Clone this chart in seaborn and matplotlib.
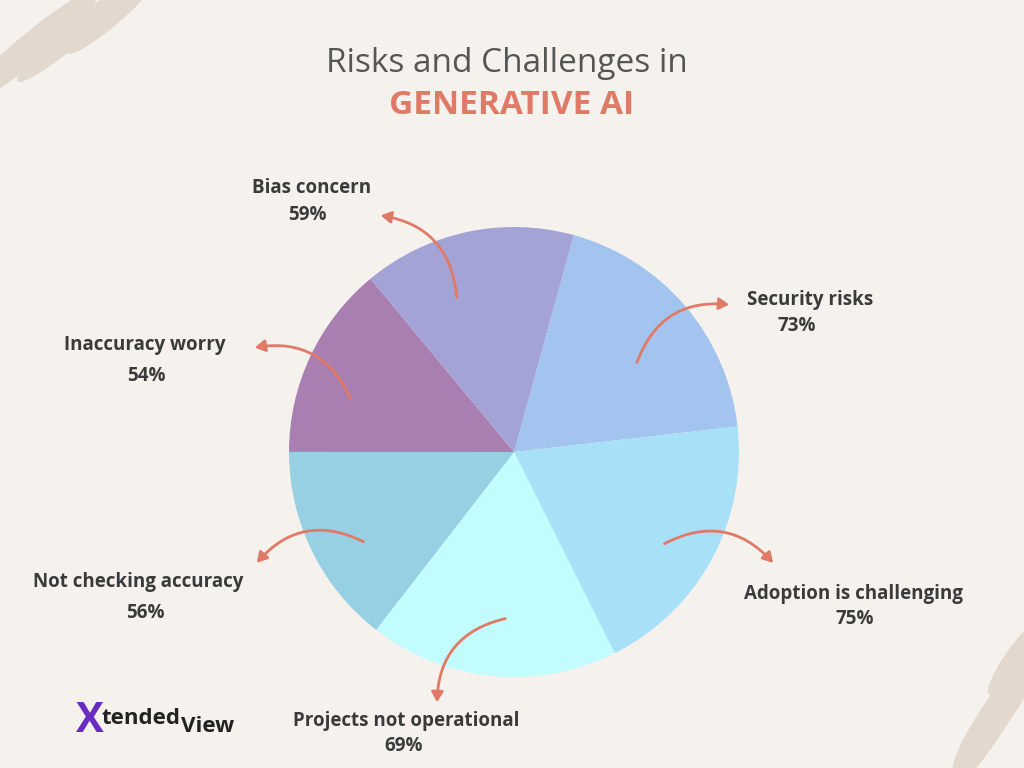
import matplotlib
matplotlib.use("Agg")
import matplotlib.pyplot as plt
import seaborn as sns
from matplotlib.patches import Ellipse

sns.set_theme(style="white")
plt.rcParams['font.family'] = ['Open Sans', 'DejaVu Sans']

categories = ["Security risks", "Adoption is challenging", "Projects not operational",
              "Not checking accuracy", "Inaccuracy worry", "Bias concern"]
values = [73, 75, 69, 56, 54, 59]
colors = ["#A3C4EE", "#A8E0F8", "#C2FCFC", "#97D0E2", "#A97FB2", "#A4A3D6"]

bg = "#F5F2EE"
fig = plt.figure(figsize=(10.24, 7.68), dpi=100, facecolor=bg)

deco = fig.add_axes([0, 0, 1, 1], zorder=0)
deco.set_xlim(0, 1024); deco.set_ylim(0, 768); deco.axis("off")
for (x, y, w, h, a) in [(30, 720, 180, 28, 40), (75, 735, 150, 22, 40), (110, 750, 110, 18, 40),
                        (1000, 60, 160, 30, 55), (985, 30, 150, 22, 55), (1015, 110, 90, 20, 55)]:
    deco.add_patch(Ellipse((x, y), w, h, angle=a, color="#E2D8CD", lw=0))

ax = fig.add_axes([(514-225)/1024, (768-452-225)/768, 450/1024, 450/768], zorder=1)
ax.pie(values, colors=colors, startangle=74.6, counterclock=False,
       wedgeprops=dict(linewidth=0))
ax.set_xlim(-1, 1); ax.set_ylim(-1, 1)
ax.set_aspect("equal")
ax.set_facecolor("none")

fig.text(507, 768-63, "Risks and Challenges in", transform=None, ha="center", va="center",
         fontsize=24, color="#555555")
fig.text(512, 768-105, "GENERATIVE AI", transform=None, ha="center", va="center",
         fontsize=24, color="#E07A67", fontweight="bold")

lab = dict(fontsize=13.5, fontweight="bold", color="#3a3a3a", transform=None, va="center")
texts = [
    ("Bias concern", 312, 188), ("59%", 307, 215),
    ("Security risks", 810, 300), ("73%", 797, 326),
    ("Inaccuracy worry", 145, 345), ("54%", 146, 376),
    ("Not checking accuracy", 138, 582), ("56%", 145, 613),
    ("Adoption is challenging", 853, 594), ("75%", 855, 619),
    ("Projects not operational", 406, 721), ("69%", 404, 746),
]
for t, x, y in texts:
    fig.text(x, 768-y, t, ha="center", **lab)

arrows = [((457, 300), (378, 215), 0.4), ((636, 365), (732, 305), -0.4),
          ((662, 545), (775, 565), -0.4), ((508, 618), (437, 705), 0.4),
          ((366, 543), (255, 565), 0.4), ((352, 402), (252, 348), 0.4)]
for (x0, y0), (x1, y1), rad in arrows:
    fig.add_artist(matplotlib.patches.FancyArrowPatch(
        (x0, 768-y0), (x1, 768-y1), transform=None,
        connectionstyle=f"arc3,rad={rad}", arrowstyle="-|>,head_length=6,head_width=3.5",
        color="#E07A67", lw=2, zorder=5))

fig.text(76, 768-722, "X", transform=None, fontsize=30, fontweight="bold", color="#6A2BC2", va="center")
fig.text(101, 768-719, "tended", transform=None, fontsize=16, fontweight="bold", color="#222222", va="center")
fig.text(181, 768-727, "View", transform=None, fontsize=16, fontweight="bold", color="#222222", va="center")

fig.savefig("out.png", dpi=100, facecolor=bg)
